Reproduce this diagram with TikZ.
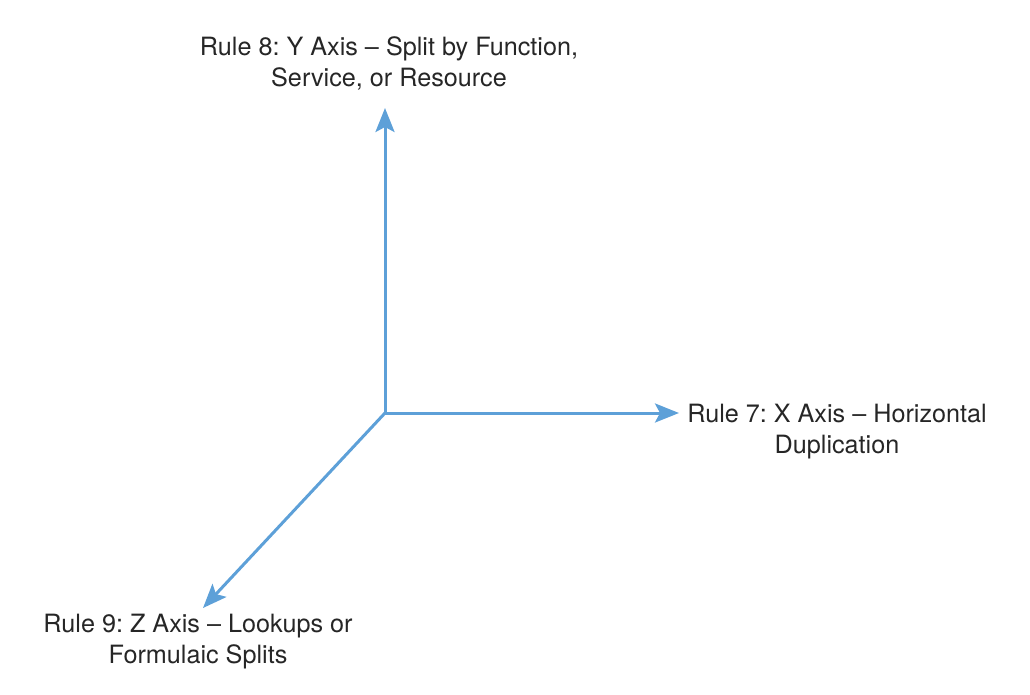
\documentclass[tikz,border=0pt]{standalone}
\usepackage{fontspec}
\setmainfont{TeX Gyre Heros}
\usetikzlibrary{arrows.meta,positioning}

\definecolor{axisblue}{RGB}{93,160,216}
\frenchspacing

\begin{document}
\begin{tikzpicture}[x=1pt, y=-1pt,
    axis/.style={draw=axisblue, line width=3pt, -{Stealth[length=24pt, width=19pt, inset=5pt]}},
    rulelabel/.style={align=center, inner sep=0pt, font=\fontsize{25.2}{31}\selectfont, text=black!85}]
\useasboundingbox (0,0) rectangle (1030,694);
\coordinate (origin) at (385,413);
\coordinate (ytip) at (385,108);
\coordinate (xtip) at (679,413);
\coordinate (ztip) at (203,608);

\draw[axis] (origin) -- (ytip);
\draw[axis] (origin) -- (xtip);
\draw[axis] (origin) -- (ztip);

\node[rulelabel] (yrule) at (389,63) {Rule 8: Y Axis -- Split by Function,\\Service, or Resource};
\node[rulelabel] (xrule) at (837,432) {Rule 7: X Axis -- Horizontal\\Duplication};
\node[rulelabel] (zrule) at (198,642) {Rule 9: Z Axis -- Lookups or\\Formulaic Splits};
\end{tikzpicture}
\end{document}
